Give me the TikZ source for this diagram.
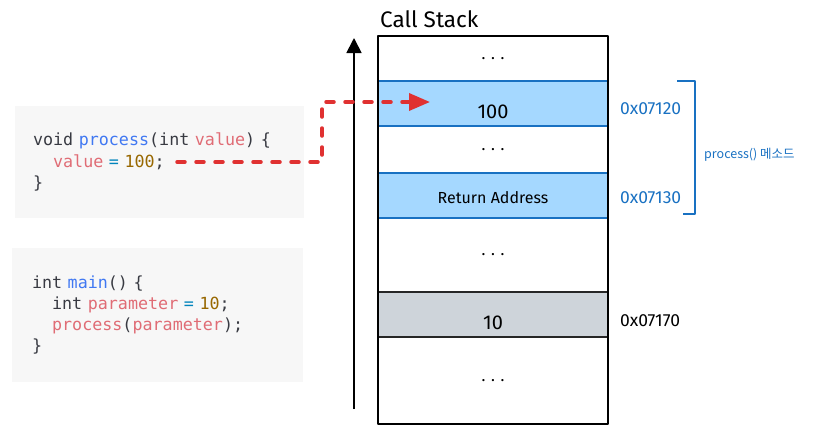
\documentclass[tikz,border=0pt]{standalone}
\usepackage{fontspec}
\usepackage{tikz}
\usetikzlibrary{arrows.meta}
\usetikzlibrary{positioning}
\newfontfamily\handfont{Fira Sans}
\newfontfamily\codefont[WordSpace={1,0,0}]{DejaVu Sans Mono}
\newfontfamily\krfont{Noto Sans CJK KR}
\definecolor{codebg}{HTML}{F7F7F7}
\definecolor{kw}{HTML}{383A42}
\definecolor{fn}{HTML}{4078F2}
\definecolor{var}{HTML}{E06C75}
\definecolor{num}{HTML}{986801}
\definecolor{op}{HTML}{0184BC}
\definecolor{stackblue}{HTML}{A5D8FF}
\definecolor{stackedge}{HTML}{1971C2}
\definecolor{stackgray}{HTML}{CED4DA}
\definecolor{flowred}{HTML}{E03131}
\tikzset{row/.style={minimum width=230pt,minimum height=#1,inner sep=0pt,outer sep=0pt,font=\handfont\fontsize{16}{18}\selectfont},row/.default=45pt}
\tikzset{slot/.style={row,draw=stackedge,line width=1.6pt,fill=stackblue}}
\tikzset{oldslot/.style={row,draw=black!85,line width=1.6pt,fill=stackgray}}
\tikzset{bignum/.style={font=\handfont\fontsize{20}{22}\selectfont,text height=30pt,text depth=0pt}}
\tikzset{codebox/.style={fill=codebg,align=left,font=\codefont\fontsize{16.7}{21.3}\selectfont,text=kw}}
\tikzset{addr/.style={inner sep=0pt,anchor=west,font=\handfont\fontsize{17.5}{19}\selectfont,text=stackedge}}
\newcommand{\ind}{\phantom{xx}}

\begin{document}
\begin{tikzpicture}[%
		x = 1pt, y = -1pt, % pixel grid, y goes down
		> = {Triangle[length=15pt,width=15pt]}, % arrow head style
		line join = round,
		]
		\useasboundingbox (0,0) rectangle (828,434);
		
		% Code
		\node[codebox, text width=253pt, inner xsep=18pt, minimum height=112pt] (proc) at (159.5,162)
		{void \textcolor{fn}{process}(int \textcolor{var}{value}) \{\\
			\ind\textcolor{var}{value} \textcolor{op}{=} \textcolor{num}{100};\\
			\}};
		\node[codebox, text width=251pt, inner xsep=20pt, minimum height=134pt] (main) at (157.5,315)
		{int \textcolor{fn}{main}() \{\\
			\ind int \textcolor{var}{parameter} \textcolor{op}{=} \textcolor{num}{10};\\
			\ind\textcolor{var}{process}(\textcolor{var}{parameter});\\
			\}};
		
		% Stack
		\node[row] (r0) at (493,58.5) {. . .};
		\node[slot, below=0pt of r0, bignum] (r1) {100};
		\node[row=47pt, below=0pt of r1] (r2) {. . .};
		\node[slot, below=0pt of r2, text height=15pt, text depth=0pt] (r3) {Return Address};
		\node[row=74pt, below=0pt of r3] (r4) {. . .};
		\node[oldslot, below=0pt of r4, bignum] (r5) {10};
		\node[row=87pt, below=0pt of r5] (r6) {. . .};
		\draw[line width=1.8pt] (r0.north west) rectangle (r6.south east);
		\node[inner sep=0pt, anchor=south west, above right=8pt and 2pt of r0.north west, font=\handfont\fontsize{22.5}{24}\selectfont] (title) {Call Stack};
		
		% Addresses
		\node[addr, right=12pt of r1, yshift=-5pt] (a1) {0x07120};
		\node[addr, right=12pt of r3, yshift=-2pt] (a3) {0x07130};
		\node[addr, right=12pt of r5, yshift=-6pt, text=black] (a5) {0x07170};
		
		% Frame of process()
		\coordinate (btop) at (677,81);
		\coordinate (bbot) at (683,214);
		\draw[stackedge, line width=1.6pt] (btop) -- ++(18,0) |- (bbot);
		\node[anchor=west, inner sep=0pt, text=stackedge, font=\krfont\fontsize{12.5}{14}\selectfont] (owner) at (704,155) {process() 메소드};
		
		% Growth
		\coordinate (abot) at (354,409);
		\coordinate (atop) at (354,38);
		\draw[->, line width=1.8pt] (abot) -- (atop);
		
		% Write
		\coordinate (callsite) at (177,162);
		\coordinate (hit) at (430,102);
		\draw[flowred, line width=3.5pt, line cap=round, dash pattern=on 8pt off 11pt, -{Triangle[length=21pt,width=17pt]}] (callsite) -- ++(145,0) |- (hit);
		\end{tikzpicture}
\end{document}
